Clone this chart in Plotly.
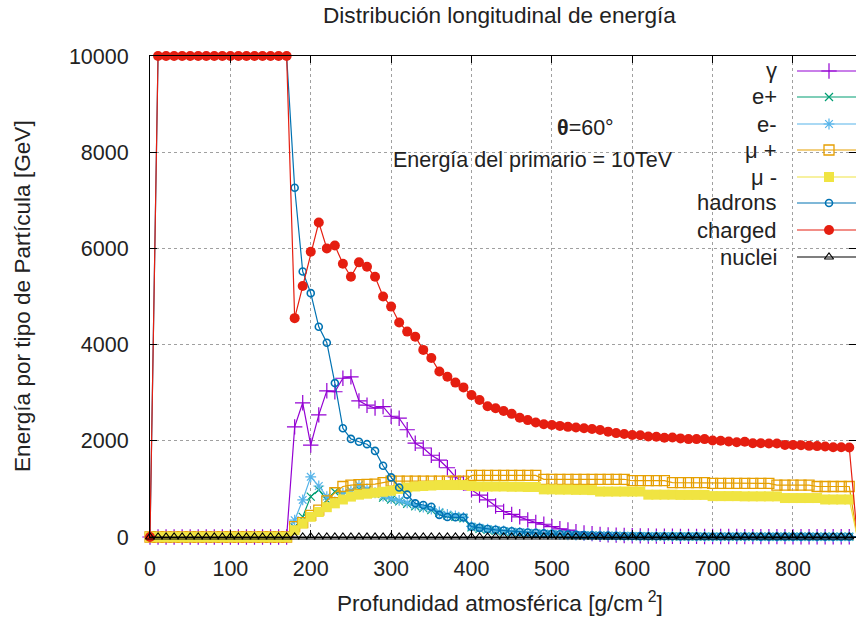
import plotly.graph_objects as go

depth = [0, 10, 20, 30, 40, 50, 60, 70, 80, 90, 100, 110, 120, 130, 140, 150, 160, 170,
         180, 190, 200, 210, 220, 230, 240, 250, 260, 270, 280, 290, 300, 310, 320, 330, 340,
         350, 360, 370, 380, 390, 400, 410, 420, 430, 440, 450, 460, 470, 480, 490, 500, 510,
         520, 530, 540, 550, 560, 570, 580, 590, 600, 610, 620, 630, 640, 650, 660, 670, 680,
         690, 700, 710, 720, 730, 740, 750, 760, 770, 780, 790, 800, 810, 820, 830, 840, 850,
         860, 870, 880]

Z18 = [0] * 18

gamma = Z18 + [2290, 2790, 1910, 2540, 3040, 3020, 3300, 3330, 2830, 2740, 2680, 2710, 2510, 2470,
               2230, 1950, 1850, 1700, 1600, 1440, 1250, 1120, 980, 870, 770, 645, 530, 470, 420,
               355, 300, 265, 215, 170, 145, 110, 85, 70, 55, 45, 38, 32, 27, 24, 21, 19, 17, 15,
               14, 13, 12, 11, 10, 10, 9, 9, 8, 8, 8, 7, 7, 7, 6, 6, 6, 6, 5, 5, 5, 5, 0]

e_plus = Z18 + [200, 420, 840, 980, 770, 940, 900, 960, 1000, 980, 900, 820, 780, 740, 690, 640,
                600, 560, 500, 450, 420, 390, 200, 170, 150, 130, 115, 100, 90, 80, 70, 62, 55,
                48, 42, 37, 33, 30, 27, 24, 22, 20, 18, 16, 15, 14, 13, 12, 11, 10, 10, 9, 9, 8,
                8, 8, 7, 7, 7, 6, 6, 6, 6, 5, 5, 5, 5, 5, 5, 5, 0]

e_minus = Z18 + [350, 770, 1250, 1060, 840, 730, 910, 960, 1080, 1000, 920, 850, 800, 760, 710,
                 660, 620, 580, 520, 470, 440, 410, 220, 190, 165, 145, 125, 110, 98, 86, 76, 67,
                 60, 52, 46, 40, 36, 32, 29, 26, 24, 22, 20, 18, 16, 15, 14, 13, 12, 11, 11, 10,
                 10, 9, 9, 8, 8, 8, 7, 7, 7, 6, 6, 6, 6, 5, 5, 5, 5, 5, 0]

mu_plus = Z18 + [215, 300, 450, 560, 750, 920, 1050, 1080, 1090, 1095, 1100, 1130, 1160, 1160,
                 1160, 1160, 1160, 1160, 1160, 1160, 1160, 1160, 1280, 1280, 1280, 1280, 1280,
                 1280, 1280, 1280, 1280, 1200, 1200, 1200, 1200, 1200, 1200, 1200, 1200, 1200,
                 1200, 1200, 1170, 1170, 1170, 1170, 1170, 1130, 1130, 1130, 1130, 1130, 1115,
                 1115, 1115, 1115, 1115, 1115, 1115, 1115, 1080, 1080, 1080, 1080, 1080, 1050,
                 1050, 1050, 1050, 1050, 0]

mu_minus = Z18 + [140, 280, 420, 520, 620, 700, 780, 840, 880, 900, 920, 940, 960, 1000, 1030,
                  1050, 1060, 1070, 1080, 1080, 1080, 1080, 1060, 1050, 1050, 1050, 1050, 1045,
                  1045, 1040, 1040, 990, 990, 985, 985, 980, 980, 975, 945, 945, 945, 945, 945,
                  945, 880, 880, 880, 880, 875, 875, 875, 875, 850, 850, 850, 850, 845, 845, 845,
                  845, 845, 810, 810, 810, 810, 810, 780, 780, 780, 780, 0]

hadrons = [0] + [10000] * 17 + [7260, 5520, 5070, 4370, 4040, 3200, 2260, 2040, 1980, 1930, 1790,
                                1480, 1240, 1030, 880, 700, 665, 630, 460, 415, 410, 405, 215,
                                190, 165, 150, 135, 120, 105, 95, 85, 75, 65, 58, 50, 45, 40, 35,
                                30, 28, 25, 22, 20, 18, 17, 16, 15, 14, 13, 12, 12, 11, 11, 10,
                                10, 9, 9, 9, 8, 8, 8, 7, 7, 7, 7, 6, 6, 6, 6, 6, 0]

charged = [0] + [10000] * 17 + [4550, 5220, 5930, 6540, 6000, 6060, 5680, 5410, 5710, 5620, 5410,
                                5000, 4790, 4460, 4270, 4165, 3890, 3720, 3440, 3330, 3210, 3110,
                                2950, 2850, 2720, 2675, 2620, 2560, 2480, 2430, 2380, 2345, 2330,
                                2310, 2290, 2275, 2260, 2245, 2225, 2190, 2160, 2140, 2120, 2115,
                                2090, 2085, 2065, 2070, 2050, 2035, 2035, 2035, 2005, 2000, 1985,
                                1970, 1980, 1950, 1950, 1945, 1945, 1915, 1915, 1910, 1895, 1890,
                                1880, 1865, 1865, 1860, 0]

nuclei = [0] * len(depth)

names = ["γ", "e+", "e-", "μ +", "μ -", "hadrons", "charged", "nuclei"]
series = [gamma, e_plus, e_minus, mu_plus, mu_minus, hadrons, charged, nuclei]
for s in series:
    assert len(s) == len(depth), (len(s), len(depth))

colors = ["#9400D3", "#009E73", "#56B4E9", "#E69F00", "#F0E442", "#0072B2", "#E51E10", "#000000"]
symbols = ["cross-thin-open", "x-thin-open", "asterisk-open", "square-open", "square",
           "circle-open", "circle", "triangle-up-open"]
sizes = [11, 8, 9, 10, 10, 7, 10, 8]
mlw = [1.2, 1.2, 1.2, 1.3, 0, 1.6, 0, 1.1]

FONT = "Liberation Sans"
FS = 21.5       # tick labels, annotations
FS_KEY = 22     # key labels
FS_TITLE = 22.6 # titles
TXT = "#222222"

W, H = 856, 617
# plot area in page pixels (left, right, top, bottom)
PL, PR, PT, PB = 150, 856, 56, 537


def px(xp):
    return (xp - PL) / (PR - PL)


def py(yp):
    return (PB - yp) / (PB - PT)


fig = go.Figure()
for name, ys, c, sym, sz, lw in zip(names, series, colors, symbols, sizes, mlw):
    fig.add_trace(go.Scatter(
        x=depth, y=ys, name=name, mode="lines+markers", cliponaxis=False,
        line=dict(color=c, width=1.2),
        marker=dict(symbol=sym, size=sz, color=c, line=dict(color=c, width=lw)),
        showlegend=False,
    ))

# key samples drawn on a pixel-like overlay axis (gnuplot-style key: text left, sample right)
key_y = [71, 97, 124, 150, 177, 203, 230, 257]
for name, ky, c, sym, sz, lw in zip(names, key_y, colors, symbols, sizes, mlw):
    fig.add_trace(go.Scatter(
        x=[797, 861], y=[ky, ky], mode="lines", line=dict(color=c, width=1.2),
        xaxis="x2", yaxis="y2", showlegend=False, hoverinfo="skip"))
    fig.add_trace(go.Scatter(
        x=[829], y=[ky], mode="markers", cliponaxis=False,
        marker=dict(symbol=sym, size=sz, color=c, line=dict(color=c, width=lw)),
        xaxis="x2", yaxis="y2", showlegend=False, hoverinfo="skip"))

annotations = []
for name, ky in zip(names, key_y):
    annotations.append(dict(x=px(779), y=py(ky), xref="paper", yref="paper", text=name,
                            showarrow=False, xanchor="right", yanchor="middle",
                            font=dict(size=FS_KEY, color=TXT)))

extra = [
    (dict(x=px(499), y=py(15), text="Distribución longitudinal de energía"), FS_TITLE),
    (dict(x=px(585), y=py(128), text="<b>θ</b>=60°"), FS),
    (dict(x=px(391), y=py(160), text="Energía del primario = 10TeV", xanchor="left"), FS),
    (dict(x=px(22), y=py(296), text="Energía por tipo de Partícula [GeV]", textangle=-90), FS_TITLE),
    (dict(x=px(500), y=py(602), text="Profundidad atmosférica [g/cm<sup> 2</sup>]"), FS_TITLE),
]
for a, fs in extra:
    a.setdefault("xanchor", "center")
    a.update(xref="paper", yref="paper", showarrow=False, yanchor="middle",
             font=dict(size=fs, color=TXT))
    annotations.append(a)

fig.update_layout(
    width=W, height=H,
    margin=dict(l=PL, r=W - PR, t=PT, b=H - PB, autoexpand=False),
    paper_bgcolor="white", plot_bgcolor="white",
    font=dict(family=FONT, size=FS, color=TXT),
    showlegend=False,
    xaxis=dict(range=[0, 878.4], tickvals=[0, 100, 200, 300, 400, 500, 600, 700, 800],
               ticks="inside", ticklen=7, tickcolor="black", showline=True, linecolor="black",
               linewidth=1, mirror="ticks", showgrid=True, gridcolor="#a0a0a0", griddash="dot",
               gridwidth=1, zeroline=False, ticklabelstandoff=12, automargin=False,
               tickfont=dict(size=FS, color=TXT)),
    yaxis=dict(range=[0, 10000], tickvals=[0, 2000, 4000, 6000, 8000, 10000], tickformat="d",
               ticks="inside", ticklen=7, tickcolor="black", showline=True, linecolor="black",
               linewidth=1, mirror="ticks", showgrid=True, gridcolor="#a0a0a0", griddash="dot",
               gridwidth=1, zeroline=False, ticklabelstandoff=16, automargin=False,
               tickfont=dict(size=FS, color=TXT)),
    xaxis2=dict(overlaying="x", range=[PL, PR], visible=False, showgrid=False),
    yaxis2=dict(overlaying="y", range=[PB, PT], visible=False, showgrid=False),
    annotations=annotations,
)

# remove the browser's default 8px body margin so the figure starts at the page corner
fig.write_html("out.html", config={"displayModeBar": False},
               post_script="document.body.style.margin='0px';")
